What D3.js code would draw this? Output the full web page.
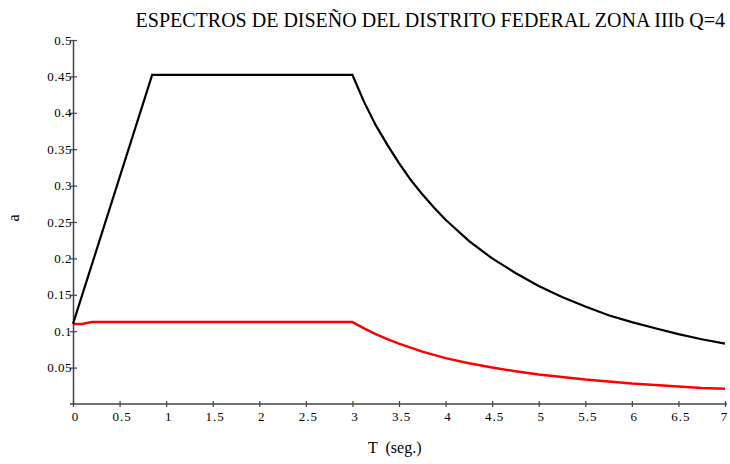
<!DOCTYPE html>
<html>
<head>
<meta charset="utf-8">
<script src="https://cdn.jsdelivr.net/npm/d3@7"></script>
<style>
  body { margin: 0; background: #fff; }
  text { font-family: "Liberation Serif", "Times New Roman", serif; fill: #000; }
</style>
</head>
<body>
<div id="chart"></div>
<script>
// periods (s) and spectral ordinates
const tElastic = [0, 0.85, 3, 3.125, 3.25, 3.375, 3.5, 3.625, 3.75, 3.875, 4, 4.25, 4.5, 4.75, 5, 5.25, 5.5, 5.75, 6, 6.25, 6.5, 6.75, 7]
const aElastic = [0.11, 0.452, 0.452, 0.415, 0.383, 0.356, 0.331, 0.308, 0.288, 0.27, 0.253, 0.224, 0.2, 0.18, 0.162, 0.147, 0.134, 0.122, 0.1125, 0.104, 0.096, 0.089, 0.083]

const tReduced = [0, 0.1, 0.2, 3, 3.125, 3.25, 3.375, 3.5, 3.75, 4, 4.25, 4.5, 4.75, 5, 5.25, 5.5, 5.75, 6, 6.25, 6.5, 6.75, 7]
const aReduced = [0.11, 0.11, 0.1125, 0.1125, 0.104, 0.096, 0.089, 0.083, 0.072, 0.063, 0.056, 0.05, 0.045, 0.0405, 0.037, 0.0335, 0.031, 0.028, 0.026, 0.024, 0.022, 0.021]

const xTicks = [0, 0.5, 1, 1.5, 2, 2.5, 3, 3.5, 4, 4.5, 5, 5.5, 6, 6.5, 7]
const yTicks = [0.05, 0.1, 0.15, 0.2, 0.25, 0.3, 0.35, 0.4, 0.45, 0.5]

const svg = d3.select("#chart")
    .append("svg")
    .attr("width", 730)
    .attr("height", 464)

const x = d3.scaleLinear()
    .domain([0, 7])
    .range([73, 725])

const y = d3.scaleLinear()
    .domain([0, 0.5])
    .range([404, 40])

// title
svg.append("text")
    .attr("x", 725)
    .attr("y", 27)
    .attr("text-anchor", "end")
    .attr("font-size", 20)
    .text("ESPECTROS DE DISEÑO DEL DISTRITO FEDERAL ZONA IIIb Q=4")

// axes
const xAxisCall = d3.axisBottom(x)
    .tickValues(xTicks)
    .tickSizeInner(3)
    .tickSizeOuter(0)
    .tickFormat(d => d)
svg.append("g")
    .attr("class", "x axis")
    .attr("transform", `translate(0, ${y(0)})`)
    .call(xAxisCall)
    .call(g => g.select(".domain").attr("stroke", "#444").attr("stroke-width", 1.5).attr("d", `M70,0H727`))
    .call(g => g.selectAll(".tick line").attr("y1", -3).attr("stroke", "#444").attr("stroke-width", 1.2))
    .call(g => g.selectAll(".tick text")
        .attr("y", 8)
        .attr("x", d => d === 7 ? -1 : 2)
        .attr("font-family", "Liberation Serif")
        .attr("font-size", 13)
        .attr("letter-spacing", 1))

const yAxisCall = d3.axisLeft(y)
    .tickValues(yTicks)
    .tickSizeInner(3)
    .tickSizeOuter(0)
    .tickFormat(d => d)
svg.append("g")
    .attr("class", "y axis")
    .attr("transform", `translate(${x(0)}, 0)`)
    .call(yAxisCall)
    .call(g => g.select(".domain").attr("stroke", "#444").attr("stroke-width", 1.5))
    .call(g => g.selectAll(".tick line").attr("x2", 4).attr("x1", -3).attr("stroke", "#444").attr("stroke-width", 1.2))
    .call(g => g.selectAll(".tick text")
        .attr("x", -1)
        .attr("font-family", "Liberation Serif")
        .attr("font-size", 13)
        .attr("letter-spacing", 0.5))

// axis titles
svg.append("text")
    .attr("transform", "translate(19, 218) rotate(-90)")
    .attr("text-anchor", "middle")
    .attr("font-size", 16)
    .text("a")

svg.append("text")
    .attr("x", 368)
    .attr("y", 453)
    .attr("font-size", 16)
    .attr("xml:space", "preserve")
    .text("T  (seg.)")

// curves
const line = d3.line()
    .x(d => x(d[0]))
    .y(d => y(d[1]))

svg.append("path")
    .datum(d3.zip(tReduced, aReduced))
    .attr("fill", "none")
    .attr("stroke", "#ff0000")
    .attr("stroke-width", 2.5)
    .attr("d", line)

svg.append("path")
    .datum(d3.zip(tElastic, aElastic))
    .attr("fill", "none")
    .attr("stroke", "#000")
    .attr("stroke-width", 2.2)
    .attr("d", line)
</script>
</body>
</html>
